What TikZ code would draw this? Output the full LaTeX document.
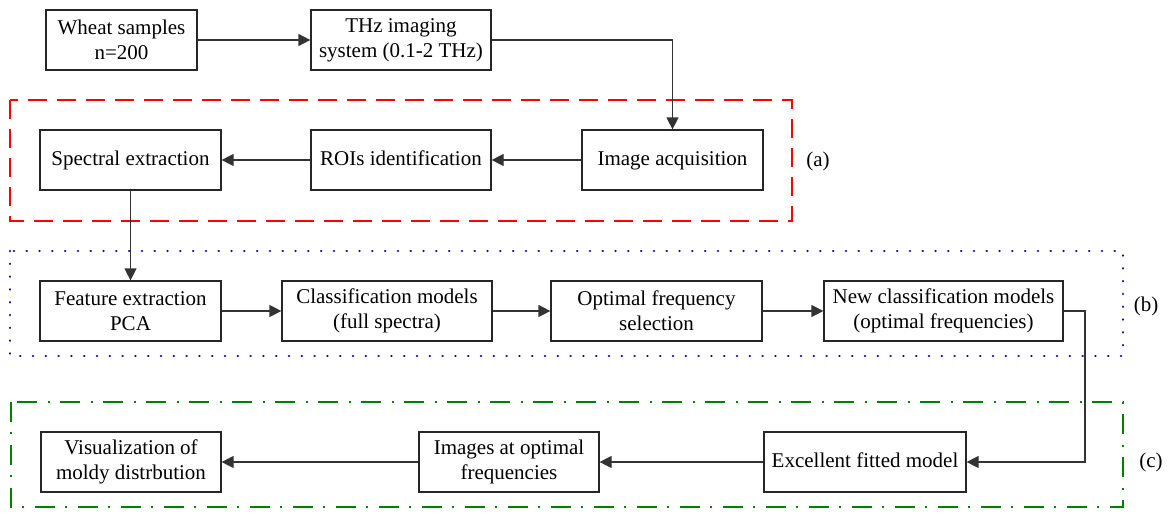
\documentclass[tikz,border=0pt]{standalone}
\usepackage{fontspec}
\setmainfont{Liberation Serif}
\usetikzlibrary{arrows.meta}

\begin{document}
\begin{tikzpicture}[x=1pt, y=-1pt,
  stepbox/.style={draw=black!85, line width=1.2pt, fill=white, inner sep=0pt,
    minimum height=60pt, align=center,
    font=\fontsize{21}{25}\selectfont},
  flow/.style={draw=black!80, line width=1.2pt,
    -{Triangle[length=12pt, width=12pt]}},
  grouplabel/.style={font=\fontsize{21}{25}\selectfont, inner sep=0pt},
  redframe/.style={draw=red, line width=2.6pt, dash pattern=on 19pt off 10pt},
  blueframe/.style={draw={rgb,255:red,0;green,0;blue,150}, line width=2.6pt,
    line cap=round, dash pattern=on 0.1pt off 12.7pt},
  greenframe/.style={draw={rgb,255:red,0;green,128;blue,0}, line width=2.6pt,
    dash pattern=on 20pt off 10pt on 2pt off 11pt}
]
\useasboundingbox (0,0) rectangle (1168,514);

% group frames
\draw[redframe]   (10,100) rectangle (792,221);
\draw[blueframe]  (10,251) rectangle (1123,356);
\draw[greenframe] (11,402) rectangle (1123,507);

\node[grouplabel] (la) at (818,161) {(a)};
\node[grouplabel] (lb) at (1146,306) {(b)};
\node[grouplabel] (lc) at (1151,462) {(c)};

% process steps
\node[stepbox, minimum width=151pt] (wheat) at (121.5,40) {Wheat samples\\n=200};
\node[stepbox, minimum width=180pt] (thz)   at (401,40)   {THz imaging\\system (0.1-2 THz)};

\node[stepbox, minimum width=181pt] (spec) at (130.5,160) {Spectral extraction\strut};
\node[stepbox, minimum width=180pt] (roi)  at (401,160)   {ROIs identification\strut};
\node[stepbox, minimum width=181pt] (acq)  at (672.5,160) {Image acquisition\strut};

\node[stepbox, minimum width=181pt] (feat) at (130.5,311) {Feature extraction\\PCA};
\node[stepbox, minimum width=210pt] (cls)  at (387,311)   {Classification models\\(full spectra)};
\node[stepbox, minimum width=211pt] (opt)  at (656.5,311) {Optimal frequency\\selection};
\node[stepbox, minimum width=239pt] (newc) at (943.5,311) {New classification models\\(optimal frequencies)};

\node[stepbox, minimum width=180pt] (vis) at (131,462) {Visualization of\\moldy distrbution};
\node[stepbox, minimum width=180pt] (img) at (509,462) {Images at optimal\\frequencies};
\node[stepbox, minimum width=202pt] (exc) at (865,462) {Excellent fitted model\strut};

\coordinate (turn) at (1085,311);

% connectors
\draw[flow] (wheat.east) -- (thz.west);
\draw[flow] (thz.east) -- (thz.east -| acq.north) -- (acq.north);
\draw[flow] (acq.west) -- (roi.east);
\draw[flow] (roi.west) -- (spec.east);
\draw[flow] (spec.south) -- (feat.north);
\draw[flow] (feat.east) -- (cls.west);
\draw[flow] (cls.east) -- (opt.west);
\draw[flow] (opt.east) -- (newc.west);
\draw[flow] (newc.east) -- (turn) |- (exc.east);
\draw[flow] (exc.west) -- (img.east);
\draw[flow] (img.west) -- (vis.east);
\end{tikzpicture}
\end{document}
